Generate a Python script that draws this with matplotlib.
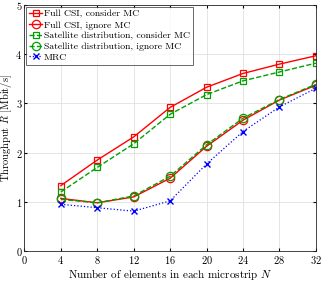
import matplotlib.pyplot as plt

plt.rcParams['font.family'] = 'serif'
plt.rcParams['font.serif'] = ['cmr10', 'DejaVu Serif']
plt.rcParams['mathtext.fontset'] = 'cm'
plt.rcParams['axes.formatter.use_mathtext'] = True

N = [4, 8, 12, 16, 20, 24, 28, 32]
full_csi_mc = [1.33, 1.85, 2.32, 2.92, 3.33, 3.61, 3.80, 3.97]
full_csi_no_mc = [1.07, 0.98, 1.10, 1.48, 2.13, 2.66, 3.07, 3.37]
sat_mc = [1.20, 1.70, 2.18, 2.78, 3.18, 3.46, 3.64, 3.82]
sat_no_mc = [1.05, 0.98, 1.12, 1.52, 2.16, 2.70, 3.08, 3.39]
mrc = [0.95, 0.88, 0.81, 1.02, 1.77, 2.43, 2.93, 3.31]

fig = plt.figure(figsize=(3.25, 2.83), dpi=100)
ax = fig.add_axes([0.075, 0.113, 0.897, 0.869])

ax.plot(N, full_csi_mc, '-s', color='#ff0000', lw=1.0, ms=5, mfc='none', mew=0.9,
        label='Full CSI, consider MC')
ax.plot(N, full_csi_no_mc, '-o', color='#ff0000', lw=1.0, ms=6, mfc='none', mew=0.9,
        label='Full CSI, ignore MC')
ax.plot(N, sat_mc, '--s', color='#00a000', lw=1.0, ms=5, mfc='none', mew=0.9,
        label='Satellite distribution, consider MC')
ax.plot(N, sat_no_mc, '--o', color='#00a000', lw=1.0, ms=6, mfc='none', mew=0.9,
        label='Satellite distribution, ignore MC')
ax.plot(N, mrc, ':x', color='#0000ff', lw=0.9, ms=4, mew=1.0, label='MRC')

ax.set_xlim(0, 32)
ax.set_ylim(0, 5)
ax.set_xticks(range(0, 33, 4))
ax.set_yticks(range(0, 6))
ax.grid(True, color='#e0e0e0', lw=0.6)
ax.tick_params(direction='in', top=True, right=True, labelsize=7.5, length=2.5, pad=2)
ax.tick_params(axis='y', pad=1.5)
for s in ax.spines.values():
    s.set_color('#262626')
    s.set_linewidth(0.6)

ax.set_xlabel('Number of elements in each microstrip $N$', fontsize=8, labelpad=1)
ax.set_ylabel('Throughput $R$ [Mbit/s]', fontsize=7.5)
ax.yaxis.set_label_coords(-0.034, 0.5)

leg = ax.legend(loc='upper left', fontsize=7, handlelength=1.3, handletextpad=0.2,
                borderpad=0.3, labelspacing=0.2, fancybox=False, borderaxespad=0.2)
leg.get_frame().set_edgecolor('#262626')
leg.get_frame().set_linewidth(0.6)

fig.savefig('out.png', dpi=100)
